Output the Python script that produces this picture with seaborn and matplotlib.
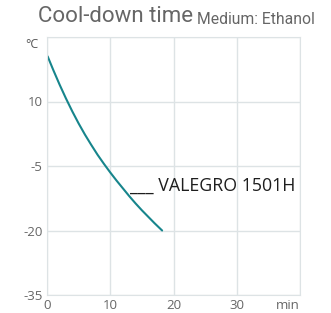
import matplotlib
matplotlib.use("Agg")
import matplotlib.pyplot as plt
import seaborn as sns
import pandas as pd

# Cool-down curve (min, degC)
time_min = [0.1, 1, 2, 3, 4, 5, 6, 7, 8, 9, 10, 11, 12, 13, 14, 15, 16, 17, 18.2]
temp_c = [20.5, 17.3, 13.9, 10.7, 7.7, 4.9, 2.3, -0.1, -2.4, -4.5, -6.5, -8.4,
          -10.2, -12.0, -13.7, -15.3, -16.8, -18.3, -20.0]
x_ticks = [0, 10, 20, 30, 40]
x_labels = ["0", "10", "20", "30", "min"]
y_ticks = [-35, -20, -5, 10]
series_name = "VALEGRO 1501H"

df = pd.DataFrame({"time": time_min, "temp": temp_c})

sns.set_style("white")
plt.rcParams["font.family"] = ["Open Sans", "DejaVu Sans"]

fig = plt.figure(figsize=(3.31, 3.13), dpi=100)
ax = fig.add_axes([47 / 331, 18 / 313, 253 / 331, 258 / 313])

sns.lineplot(data=df, x="time", y="temp", ax=ax, color="#17858c", linewidth=1.5)

ax.set_xlim(0, 40)
ax.set_ylim(-35, 25)
ax.set_xticks(x_ticks)
ax.set_xticklabels(x_labels)
ax.get_xticklabels()[-1].set_horizontalalignment("right")
ax.set_yticks(y_ticks + [25])
ax.set_yticklabels([str(v) for v in y_ticks] + [""])
ax.set_xlabel("")
ax.set_ylabel("")
ax.grid(True, color="#dde3e5", linewidth=1)
for s in ax.spines.values():
    s.set_color("#dde3e5")
ax.tick_params(length=0, labelsize=9.5, colors="#666666", pad=3)

# degree label in place of the top y tick
fig.text(32 / 331, 1 - 45 / 313, "°C", fontsize=9, color="#555555", ha="center", va="center")

# titles
fig.text(38 / 331, 1 - 17 / 313, "Cool-down time", fontsize=16, color="#666666",
         ha="left", va="center", family=["Roboto", "DejaVu Sans"])
fig.text(197 / 331, 1 - 19 / 313, "Medium: Ethanol", fontsize=11.3, color="#666666",
         ha="left", va="center", family=["Roboto", "DejaVu Sans"])

# series label
ax.text(13.1, -9.6, "___ " + series_name, fontsize=12.8, color="#1e1e1e", ha="left", va="center")

fig.savefig("out.png", dpi=100)
